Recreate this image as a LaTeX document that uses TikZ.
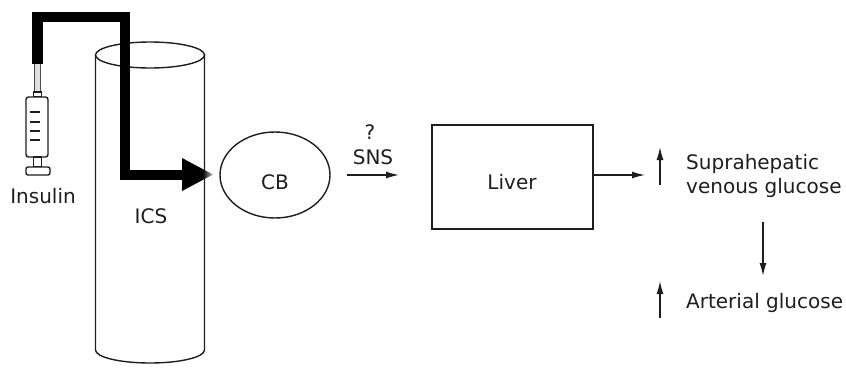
\documentclass[tikz,border=0pt]{standalone}
\usepackage{fontspec}
\setmainfont{DejaVu Sans}
\usetikzlibrary{shapes.geometric,arrows.meta}
\definecolor{ink}{HTML}{1E1E1E}
% arrow head of the injection path: solid, fading out at its point
\pgfdeclarehorizontalshading{tipfade}{100bp}{color(0bp)=(black); color(25bp)=(black); color(58bp)=(black); color(75bp)=(white!75!black); color(100bp)=(white!75!black)}
\begin{document}
\begin{tikzpicture}[x=1pt,y=-1pt,
  line/.style={line width=1.4pt, draw=ink},
  lbl/.style={font=\fontsize{20}{24}\selectfont, text=ink, inner sep=0pt},
  arr/.style={line, -{Latex[length=13pt,width=7pt]}},
]
\useasboundingbox (0,0) rectangle (846,370);

% the vessel (cylinder)
\draw[line] (95.5,55) -- (95.5,350)
  arc[start angle=180, end angle=0, x radius=54.5, y radius=13] -- (204.5,55);
\draw[line] (150,55) ellipse[x radius=54.5, y radius=13];
\node[lbl] (ics) at (151,216) {ICS};

% syringe
\draw[draw=ink!80, line width=0.9pt, fill=gray!25] (34.5,62) rectangle (40.5,92);
\draw[line, fill=white] (33.5,92) rectangle (41.5,97);
\draw[line, fill=white, rounded corners=2.5pt] (26,97) rectangle (48,157);
\foreach \yy in {112,122,131,140} \draw[line, line width=1.6pt] (30,\yy) -- (40,\yy);
\draw[line, fill=white] (33.5,157) rectangle (41.5,167);
\draw[line, fill=white, rounded corners=2pt] (26,167) rectangle (50,175);
\coordinate (syr) at (37.5,64);
\node[lbl] (insulin) at (43,196) {Insulin};

% injection path into the vessel
\coordinate (c1) at (37.5,17);
\coordinate (c2) at (125,17);
\coordinate (c3) at (125,175);
\coordinate (c4) at (184,175);
\draw[line width=10.5pt, line join=miter, black] (syr) -- (c1) -- (c2) -- (c3) -- (c4);
\shade[shading=tipfade] (182,158) -- (213,174.5) -- (182,191) -- cycle;

% carotid body
\node[ellipse, line, minimum width=110pt, minimum height=86pt, inner sep=0pt] (cb) at (275,175) {};
\node[lbl] at (275,182) {CB};

% SNS link
\coordinate (s1) at (347,175);
\coordinate (s2) at (399,175);
\draw[arr] (s1) -- (s2);
\node[lbl] (sns) at (373,157) {SNS};
\node[lbl] (q) at (370,132) {?};

% liver
\node[draw=ink, line width=1.4pt, minimum width=161pt, minimum height=104pt, inner sep=0pt] (liver) at (512.5,177) {};
\node[lbl] at (512,182) {Liver};
\coordinate (lo) at (645,175);
\draw[arr] (liver.east |- lo) -- (lo);

% glucose responses
\coordinate (u1a) at (660,185);
\coordinate (u1b) at (660,147);
\draw[arr] (u1a) -- (u1b);
\node[lbl, anchor=west, align=left] (supra) at (686,176) {Suprahepatic\\venous glucose};
\coordinate (d1) at (763,222);
\coordinate (d2) at (763,276);
\draw[arr] (d1) -- (d2);
\coordinate (u2a) at (660,318);
\coordinate (u2b) at (660,281);
\draw[arr] (u2a) -- (u2b);
\node[lbl, anchor=west] (art) at (686,303) {Arterial glucose};
\end{tikzpicture}
\end{document}
